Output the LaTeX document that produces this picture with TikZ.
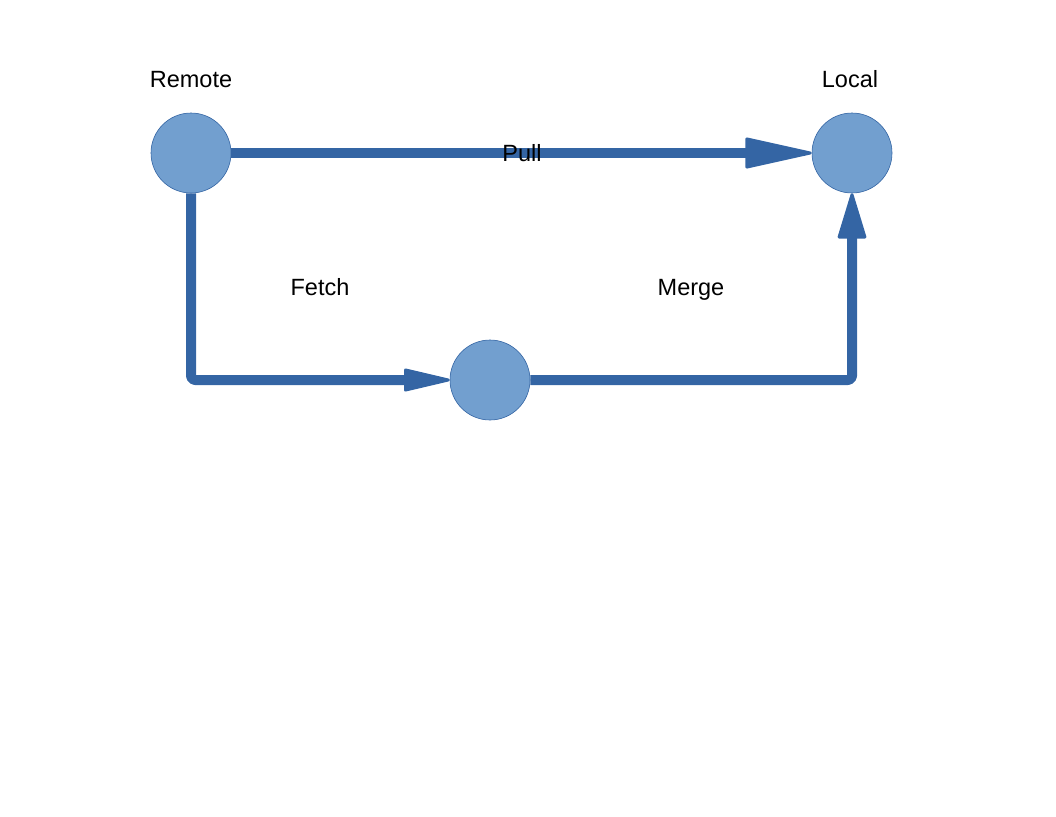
\documentclass[tikz,border=0pt]{standalone}
\usepackage{fontspec}
\setmainfont{Liberation Sans}
\usetikzlibrary{arrows.meta}
\definecolor{fillblue}{HTML}{729FCF}
\definecolor{lineblue}{HTML}{3465A4}
\tikzset{
  dot/.style={circle, fill=fillblue, draw=lineblue, line width=0.6pt, minimum size=80pt, inner sep=0pt},
  flow/.style={draw=lineblue, line width=10pt, line join=round, rounded corners=4pt},
  lbl/.style={font=\fontsize{23.5}{28}\selectfont, inner sep=0pt}
}
\begin{document}
\begin{tikzpicture}[x=1pt,y=-1pt]
\useasboundingbox (0,0) rectangle (1056,816);
\node[dot] (remote) at (191,153) {};
\node[dot] (local) at (852,153) {};
\node[dot] (mid) at (490,380) {};
\coordinate (c1) at (191,380);
\coordinate (c2) at (852,380);
\draw[flow, -{Triangle[length=72pt,width=31pt,line width=3pt,round]}] (remote.east) -- (local.west);
\draw[flow, -{Triangle[length=51pt,width=23pt,line width=3pt,round]}] (remote.south) -- (c1) -- (mid.west);
\draw[flow, -{Triangle[length=49pt,width=29pt,line width=3pt,round]}] (mid.east) -- (c2) -- (local.south);
\node[lbl] (tremote) at (191,80) {Remote};
\node[lbl] (tlocal) at (850,79) {Local};
\node[lbl] (tpull) at (522,153) {Pull};
\node[lbl] (tfetch) at (320,287) {Fetch};
\node[lbl] (tmerge) at (691,290) {Merge};
\end{tikzpicture}
\end{document}
